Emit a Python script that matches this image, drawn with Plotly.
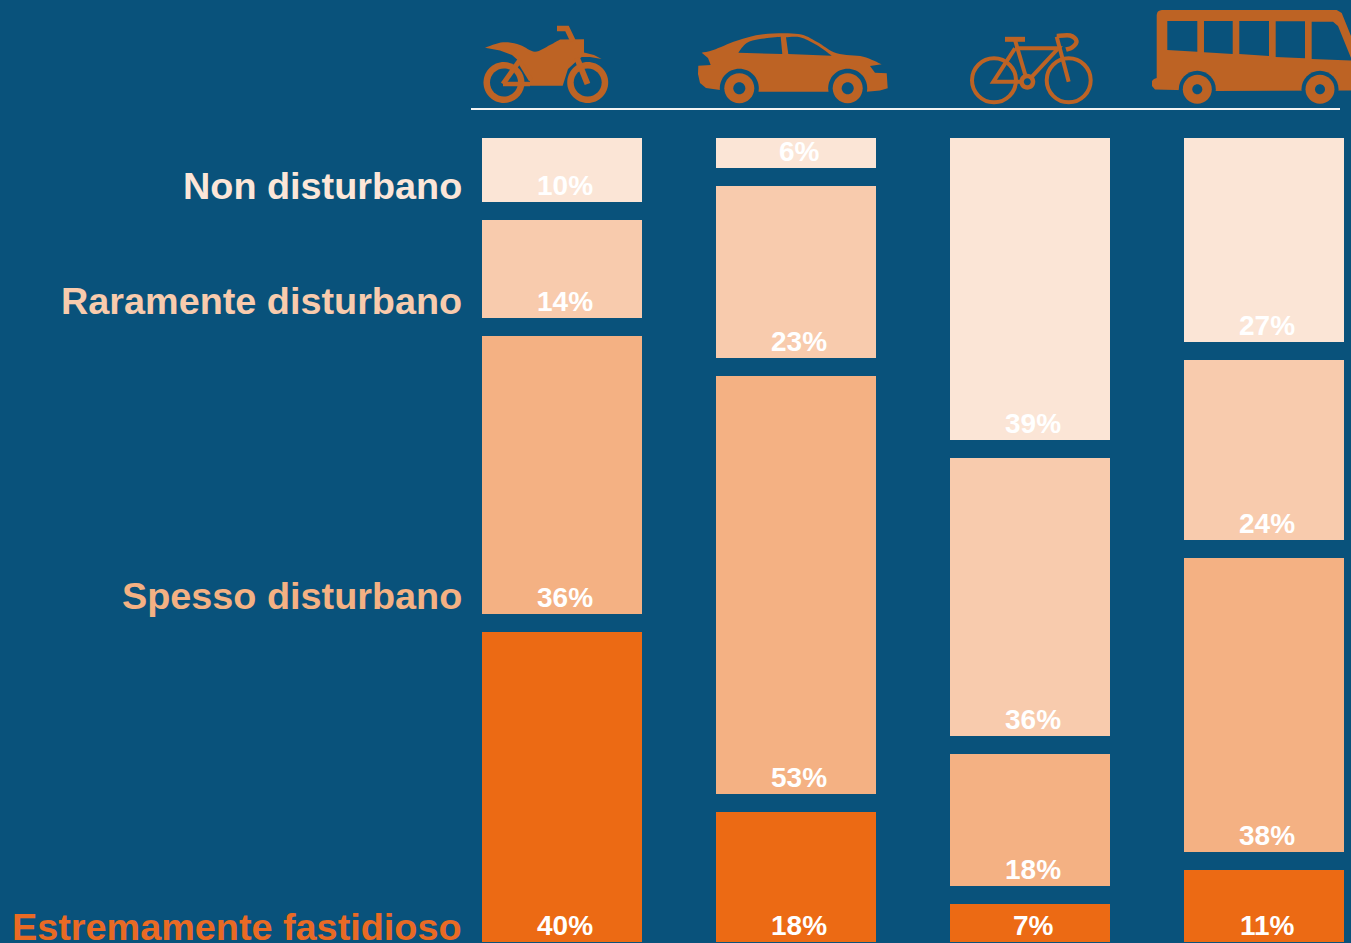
import plotly.graph_objects as go

vehicles = ["Moto", "Auto", "Bici", "Bus"]
levels = ["Non disturbano", "Raramente disturbano", "Spesso disturbano", "Estremamente fastidioso"]
non_disturbano = [10.0, 5.8, 38.9, 27.0]
raramente = [14.1, 23.1, 36.0, 24.1]
spesso = [36.0, 53.1, 18.3, 38.0]
estremamente = [39.9, 18.0, 6.8, 10.9]
series = [non_disturbano, raramente, spesso, estremamente]
bar_colors = ["#FBE5D6", "#F8CBAD", "#F4B183", "#EC6A14"]
label_colors = ["#FCE6D8", "#F8CBAD", "#F4B183", "#E96A24"]
label_y_px = [186, 301, 596, 927]

W, H = 1351, 943
BG = "#09527B"
ICON = "#BD6324"
TOP, BOTTOM = 129, 942
PX_PER_PCT = 8.22
PITCH = 234
FIRST = 562


def fx(x):
    return x / W


def fy(y):
    return (BOTTOM - y) / (BOTTOM - TOP)


def path(points, close=True):
    s = ""
    for i, p in enumerate(points):
        s += ("M" if i == 0 else "L") + f"{fx(p[0]):.5f},{fy(p[1]):.5f} "
    return s + ("Z" if close else "")


def lines(points):
    return " ".join(f"L{fx(a):.5f},{fy(b):.5f}" for a, b in points)


def smooth(points, close=True):
    """Catmull-Rom through the outline points."""
    n = len(points)
    s = f"M{fx(points[0][0]):.5f},{fy(points[0][1]):.5f} "
    for i in range(n if close else n - 1):
        p0 = points[(i - 1) % n] if (close or i > 0) else points[i]
        p1 = points[i]
        p2 = points[(i + 1) % n]
        p3 = points[(i + 2) % n] if (close or i + 2 < n) else p2
        c1 = (p1[0] + (p2[0] - p0[0]) / 6, p1[1] + (p2[1] - p0[1]) / 6)
        c2 = (p2[0] - (p3[0] - p1[0]) / 6, p2[1] - (p3[1] - p1[1]) / 6)
        s += f"C{fx(c1[0]):.5f},{fy(c1[1]):.5f} {fx(c2[0]):.5f},{fy(c2[1]):.5f} {fx(p2[0]):.5f},{fy(p2[1]):.5f} "
    return s + ("Z" if close else "")


def circle(cx, cy, r):
    k = 0.5523 * r
    pts = [
        (cx + r, cy), (cx + r, cy + k), (cx + k, cy + r), (cx, cy + r),
        (cx - k, cy + r), (cx - r, cy + k), (cx - r, cy), (cx - r, cy - k),
        (cx - k, cy - r), (cx, cy - r), (cx + k, cy - r), (cx + r, cy - k), (cx + r, cy),
    ]
    s = f"M{fx(pts[0][0]):.5f},{fy(pts[0][1]):.5f} "
    for i in range(1, 13, 3):
        s += "C" + " ".join(f"{fx(p[0]):.5f},{fy(p[1]):.5f}" for p in pts[i:i + 3]) + " "
    return s + "Z"


shapes = []


def fill(d, color=ICON):
    shapes.append(dict(type="path", xref="paper", yref="paper", path=d, fillcolor=color,
                       line=dict(width=0), layer="above"))


def stroke(d, width, color=ICON):
    shapes.append(dict(type="path", xref="paper", yref="paper", path=d,
                       line=dict(color=color, width=width), layer="above"))


# Motorcycle
for cx in (504, 587.7):
    fill(circle(cx, 82.5, 20.5))
    fill(circle(cx, 82.5, 14), BG)
fill(smooth([(485, 47.7), (503, 42.3), (520, 45), (535, 51.7), (550, 45), (560, 39.5)], False)
     + lines([(584, 39.3), (584, 52.5), (594, 55), (601.7, 59), (590, 57), (581.7, 57), (576.7, 61), (568, 69),
              (562.7, 85.7), (530, 85.7), (530, 79), (527, 70), (520, 62), (512, 55), (500, 50.5)]) + " Z")
stroke(path([(503, 84), (520, 60)], False), 5)
stroke(path([(503, 84), (530, 84)], False), 4.5)
stroke(path([(520, 62), (531, 80)], False), 4.5)
stroke(path([(557, 28.5), (567, 28.5), (573, 41)], False), 5.5)
stroke(path([(577, 58), (587.5, 84)], False), 6)

# Car
fill(smooth([(701.7, 52.7), (713.3, 50), (736.7, 40.7), (763.3, 34.3), (798.3, 34), (816.7, 41.7),
             (836.7, 53.3), (863.3, 56.7), (881.7, 64.3)], False)
     + lines([(870, 66), (875, 72.7), (886.7, 73.3), (887.7, 88.3), (880, 90.5), (866.7, 91.7), (760, 91.7),
              (720, 90), (706, 88), (700, 83), (698, 74), (698.3, 65.7), (710.7, 65), (708, 58)]) + " Z")
fill(smooth([(738.3, 52.7), (746.7, 43), (760, 39), (780.7, 36.7)], False) + lines([(782.3, 54)]) + " Z", BG)
fill(smooth([(786, 37.3), (800, 37.3), (816.7, 45), (831.7, 55.7)], False) + lines([(788.3, 54)]) + " Z", BG)
for cx in (739.3, 847.7):
    fill(circle(cx, 88.3, 19.5), BG)
    fill(circle(cx, 88.3, 15))
    fill(circle(cx, 88.3, 6), BG)

# Bicycle
for cx in (994, 1068.7):
    stroke(circle(cx, 80.3, 22), 4)
stroke(path([(1015, 40), (1027.3, 81.7)], False), 4)
stroke(path([(1015, 48.3), (1058.3, 48.3), (1027.3, 81.7)], False), 4)
stroke(path([(1015, 48.3), (993.3, 81.7), (1027.3, 81.7)], False), 4)
stroke(path([(1056.7, 36.7), (1068.7, 81.7)], False), 4)
stroke(path([(1005, 39.3), (1025, 39.3)], False), 5)
stroke(smooth([(1056.7, 36), (1070, 35.5), (1076.5, 41), (1072, 47.5), (1066, 49.5)], False), 4.5)
fill(circle(1027.3, 81.7, 8))
fill(circle(1027.3, 81.7, 3.5), BG)

# Bus
fill(smooth([(1156.7, 15), (1158, 11.5), (1161.7, 10)], False)
     + lines([(1336.7, 10), (1341.7, 13), (1351, 36), (1351, 90.5), (1216.7, 91), (1155, 89.5), (1152, 86),
              (1152, 81), (1154, 79), (1156.7, 78)]) + " Z")
for pts in [
    [(1167.3, 21), (1197.3, 21), (1197.3, 51.7), (1167.3, 50)],
    [(1204, 21), (1232.7, 21), (1232.7, 54), (1204, 52.3)],
    [(1239.3, 21), (1269, 21), (1269, 56), (1239.3, 54)],
    [(1275.7, 21.3), (1305, 21.3), (1305, 58.3), (1275.7, 57)],
    [(1311.7, 21.7), (1333, 21.7), (1338, 26), (1351, 58), (1351, 60.5), (1311.7, 59)],
]:
    fill(path(pts), BG)
for cx in (1197.3, 1320):
    fill(circle(cx, 89.3, 18.5), BG)
    fill(circle(cx, 89.3, 14.5))
    fill(circle(cx, 89.3, 5), BG)

# Rule under the icons
stroke(path([(471, 109), (1340, 109)], False), 2, "#F4F4F4")

fig = go.Figure()
for name, values, color in zip(levels, series, bar_colors):
    fig.add_trace(go.Bar(
        x=vehicles, y=values, name=name, width=178 / PITCH,
        marker=dict(color=color, line=dict(color=BG, width=18)),
        showlegend=False, hoverinfo="skip",
    ))

annotations = []
for name, color, ypx in zip(levels, label_colors, label_y_px):
    annotations.append(dict(
        xref="paper", yref="paper", x=fx(464), y=fy(ypx), xanchor="right", yanchor="middle",
        text=f"<b>{name}</b>", showarrow=False, align="right",
        font=dict(family="Liberation Sans", size=37.8, color=color),
    ))
for i, vehicle in enumerate(vehicles):
    cumulative = 0
    for values in series:
        cumulative += values[i]
        annotations.append(dict(
            x=vehicle, y=cumulative - 25.5 / PX_PER_PCT, xref="x", yref="y",
            xanchor="center", yanchor="middle",
            text=f"<b>{round(values[i])}%</b>", showarrow=False, xshift=3,
            font=dict(family="Liberation Sans", size=28, color="#FFFFFF"),
        ))

fig.update_layout(
    width=W, height=H, barmode="stack", bargap=0,
    paper_bgcolor=BG, plot_bgcolor=BG,
    margin=dict(l=0, r=0, t=TOP, b=H - BOTTOM, pad=0),
    xaxis=dict(visible=False, type="category", categoryorder="array", categoryarray=vehicles,
               range=[-FIRST / PITCH, (W - FIRST) / PITCH]),
    yaxis=dict(visible=False, range=[(BOTTOM - TOP) / PX_PER_PCT, 0]),
    shapes=shapes, annotations=annotations,
)
fig.write_html("out.html", config={"displayModeBar": False},
               post_script="document.body.style.margin='0';document.body.style.overflow='hidden';document.body.style.background='%s';" % BG)
